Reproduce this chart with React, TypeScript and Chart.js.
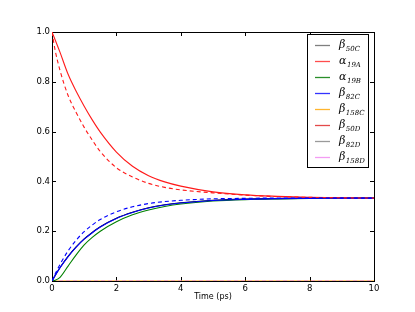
import React, { useEffect, useRef } from 'react';
import { Chart, registerables } from 'chart.js';

Chart.register(...registerables);

// ---- data ----
const times = [0, 0.1, 0.25, 0.5, 0.75, 1, 1.25, 1.5, 2, 2.5, 3, 3.5, 4, 5, 6, 7, 8, 9, 10];
const xTicks = [0, 2, 4, 6, 8, 10];
const yTicks = [0, 0.2, 0.4, 0.6, 0.8, 1.0];

const beta50C = [0, 0.0225, 0.054, 0.099, 0.137, 0.169, 0.195, 0.218, 0.252, 0.276, 0.294, 0.306, 0.314, 0.324, 0.329, 0.331, 0.332, 0.333, 0.333];
const alpha19A = [1.0, 0.968, 0.918, 0.83, 0.762, 0.702, 0.647, 0.598, 0.518, 0.461, 0.423, 0.398, 0.381, 0.358, 0.346, 0.34, 0.336, 0.334, 0.333];
const alpha19B = [0, 0.003, 0.015, 0.06, 0.105, 0.145, 0.175, 0.2, 0.238, 0.266, 0.285, 0.299, 0.309, 0.321, 0.327, 0.33, 0.332, 0.333, 0.333];
const beta82C = [0, 0.0225, 0.0535, 0.098, 0.136, 0.168, 0.194, 0.217, 0.251, 0.275, 0.293, 0.305, 0.313, 0.323, 0.328, 0.331, 0.332, 0.333, 0.333];
const beta158C = [0, 0, 0, 0, 0, 0, 0, 0, 0, 0, 0, 0, 0, 0, 0, 0, 0, 0, 0];
const beta50D = [1.0, 0.925, 0.845, 0.745, 0.677, 0.617, 0.566, 0.52, 0.455, 0.418, 0.392, 0.376, 0.366, 0.354, 0.345, 0.339, 0.336, 0.334, 0.333];
const beta82D = [0, 0.029, 0.067, 0.121, 0.164, 0.198, 0.225, 0.247, 0.278, 0.298, 0.311, 0.319, 0.324, 0.33, 0.332, 0.333, 0.333, 0.333, 0.333];
const beta158D = [0, 0, 0, 0, 0, 0, 0, 0, 0, 0, 0, 0, 0, 0, 0, 0, 0, 0, 0];

const seriesSymbols = ['β', 'α', 'α', 'β', 'β', 'β', 'β', 'β'];
const seriesSubs = ['50C', '19A', '19B', '82C', '158C', '50D', '82D', '158D'];
const seriesData = [beta50C, alpha19A, alpha19B, beta82C, beta158C, beta50D, beta82D, beta158D];

const lineColors = ['#000000', '#ff1a1a', '#008000', '#0000ff', '#ffa500', '#ff1a1a', '#0000ff', '#ee82ee'];
const legendColors = ['#7f7f7f', '#ff4d4d', '#2a8f2a', '#3333ff', '#ffb52e', '#e34a4a', '#9a9a9a', '#f39cf3'];
const dashes = [[], [], [], [], [], [4, 3], [4, 3], [4, 3]];
const drawOrder = [20, 5, 6, 4, 8, 3, 2, 7];

const framePlugin = {
  id: 'frame',
  beforeDatasetsDraw(chart: any) {
    const { ctx, chartArea: a, scales } = chart;
    ctx.save();
    ctx.strokeStyle = '#000';
    ctx.lineWidth = 1;
    ctx.strokeRect(Math.round(a.left) + 0.5, Math.round(a.top) + 0.5, Math.round(a.right - a.left), Math.round(a.bottom - a.top));
    const L = 4;
    ctx.beginPath();
    xTicks.forEach((v) => {
      const x = Math.round(scales.x.getPixelForValue(v)) + 0.5;
      ctx.moveTo(x, a.bottom);
      ctx.lineTo(x, a.bottom - L);
      ctx.moveTo(x, a.top);
      ctx.lineTo(x, a.top + L);
    });
    yTicks.forEach((v) => {
      const y = Math.round(scales.y.getPixelForValue(v)) + 0.5;
      ctx.moveTo(a.left, y);
      ctx.lineTo(a.left + L, y);
      ctx.moveTo(a.right, y);
      ctx.lineTo(a.right - L, y);
    });
    ctx.stroke();
    ctx.restore();
  },
};

const legendPlugin = {
  id: 'mplLegend',
  afterDraw(chart: any) {
    const { ctx } = chart;
    const bx = 307.5, by = 34.5, bw = 61, bh = 133;
    ctx.save();
    ctx.fillStyle = '#fff';
    ctx.fillRect(bx, by, bw, bh);
    ctx.strokeStyle = '#000';
    ctx.lineWidth = 1;
    ctx.strokeRect(bx, by, bw, bh);
    seriesSubs.forEach((sub, i) => {
      const y = 45 + i * 16;
      ctx.strokeStyle = legendColors[i];
      ctx.lineWidth = 1.3;
      ctx.beginPath();
      ctx.moveTo(315, y + 0.5);
      ctx.lineTo(330, y + 0.5);
      ctx.stroke();
      ctx.fillStyle = '#000';
      ctx.textBaseline = 'alphabetic';
      ctx.font = 'italic 11px "DejaVu Serif"';
      const sym = seriesSymbols[i];
      ctx.fillText(sym, 339, y + 3);
      const w = ctx.measureText(sym).width;
      ctx.font = 'italic 7px "DejaVu Serif"';
      ctx.fillText(sub, 339 + w + 0.5, y + 6);
    });
    ctx.restore();
  },
};

export default function App() {
  const ref = useRef<HTMLCanvasElement>(null);
  useEffect(() => {
    document.body.style.margin = '0';
    const canvas = ref.current!;
    const chart = new Chart(canvas, {
      type: 'line',
      data: {
        datasets: seriesData.map((d, i) => ({
          label: seriesSymbols[i] + seriesSubs[i],
          data: d.map((v, j) => ({ x: times[j], y: v })),
          borderColor: lineColors[i],
          backgroundColor: lineColors[i],
          borderWidth: 1.1,
          borderDash: dashes[i],
          pointRadius: 0,
          cubicInterpolationMode: 'monotone',
          fill: false,
          order: drawOrder[i],
        })),
      },
      options: {
        animation: false,
        responsive: false,
        devicePixelRatio: 1,
        layout: { padding: { top: 32, right: 41, left: 0, bottom: 0 } },
        plugins: { legend: { display: false }, tooltip: { enabled: false } },
        scales: {
          x: {
            type: 'linear',
            min: 0,
            max: 10,
            afterBuildTicks: (s: any) => { s.ticks = xTicks.map((v) => ({ value: v })); },
            afterFit: (s: any) => { s.height = 31; },
            grid: { display: false, drawTicks: false },
            border: { display: false },
            ticks: {
              padding: 3,
              color: '#000',
              font: { family: '"DejaVu Sans"', size: 8.5 },
              maxRotation: 0,
              callback: (v: any) => String(v),
            },
            title: {
              display: true,
              text: 'Time (ps)',
              color: '#000',
              font: { family: '"DejaVu Sans"', size: 8 },
              padding: { top: 0, bottom: 10 },
            },
          },
          y: {
            type: 'linear',
            min: 0,
            max: 1,
            afterBuildTicks: (s: any) => { s.ticks = yTicks.map((v) => ({ value: v })); },
            afterFit: (s: any) => { s.width = 52; },
            grid: { display: false, drawTicks: false },
            border: { display: false },
            ticks: {
              padding: 2,
              color: '#000',
              font: { family: '"DejaVu Sans"', size: 8.5 },
              callback: (v: any) => Number(v).toFixed(1),
            },
          },
        },
      },
      plugins: [framePlugin, legendPlugin],
    } as any);
    return () => chart.destroy();
  }, []);
  return <canvas ref={ref} width={415} height={312} style={{ display: 'block', width: 415, height: 312 }} />;
}
